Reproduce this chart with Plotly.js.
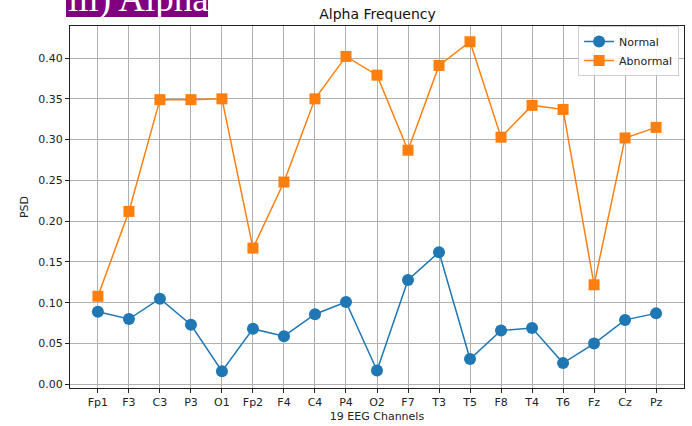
<!DOCTYPE html>
<html>
<head>
<meta charset="utf-8">
<script src="https://cdn.plot.ly/plotly-3.0.1.min.js"></script>
<style>html,body{margin:0;padding:0;background:#fff;}</style>
</head>
<body>
<div id="chart" style="width:692px;height:426px;"></div>
<script>
const channels = ["Fp1","F3","C3","P3","O1","Fp2","F4","C4","P4","O2","F7","T3","T5","F8","T4","T6","Fz","Cz","Pz"];
const normal = [0.089,0.080,0.105,0.073,0.016,0.068,0.059,0.086,0.101,0.017,0.128,0.162,0.031,0.066,0.069,0.026,0.050,0.079,0.087];
const abnormal = [0.108,0.212,0.349,0.349,0.350,0.167,0.248,0.350,0.402,0.379,0.287,0.391,0.420,0.303,0.342,0.337,0.122,0.302,0.315];
const yTicks = [0,0.05,0.10,0.15,0.20,0.25,0.30,0.35,0.40];
const yTickText = ["0.00","0.05","0.10","0.15","0.20","0.25","0.30","0.35","0.40"];
const xIdx = channels.map((c,i)=>i);

const traces = [
  {x:xIdx, y:normal, name:"Normal", mode:"lines+markers", type:"scatter",
   line:{color:"#1f77b4", width:1.5}, marker:{symbol:"circle", size:12, color:"#1f77b4"}},
  {x:xIdx, y:abnormal, name:"Abnormal", mode:"lines+markers", type:"scatter",
   line:{color:"#ff7f0e", width:1.5}, marker:{symbol:"square", size:11, color:"#ff7f0e"}}
];
const font = {family:"DejaVu Sans", size:11, color:"#222"};
const layout = {
  width:692, height:426,
  margin:{l:70, r:8, t:26, b:38},
  paper_bgcolor:"#fff", plot_bgcolor:"#fff",
  font:font,
  title:{text:"Alpha Frequency", font:{family:"DejaVu Sans", size:14, color:"#111"}, x:0.5455, xanchor:"center", y:0.966, yanchor:"middle"},
  xaxis:{range:[-0.9,18.9], tickvals:xIdx, ticktext:channels, showgrid:true, gridcolor:"#b0b0b0", gridwidth:1,
    zeroline:false, showline:true, linecolor:"#222", linewidth:1, mirror:true,
    ticks:"outside", ticklen:4, tickcolor:"#222",
    title:{text:"19 EEG Channels", font:{family:"DejaVu Sans", size:11, color:"#222"}, standoff:4}},
  yaxis:{range:[-0.0045,0.4393], tickvals:yTicks, ticktext:yTickText, showgrid:true, gridcolor:"#b0b0b0", gridwidth:1,
    zeroline:false, showline:true, linecolor:"#222", linewidth:1, mirror:true,
    ticks:"outside", ticklen:4, tickcolor:"#222",
    title:{text:"PSD", font:{family:"DejaVu Sans", size:11, color:"#222"}, standoff:7}},
  legend:{x:0.992, y:1.0, xanchor:"right", yanchor:"top", bgcolor:"rgba(255,255,255,0.85)",
    bordercolor:"#d0d0d0", borderwidth:1, font:{family:"DejaVu Sans", size:11, color:"#222"}},
  shapes:[{type:"rect", xref:"paper", yref:"paper", x0:-0.0065, x1:0.2248, y0:1.0249, y1:1.08,
    fillcolor:"#800080", line:{width:0}, layer:"above"}],
  annotations:[{xref:"paper", yref:"paper", x:-0.0065, y:1.0113, xanchor:"left", yanchor:"bottom",
    text:"iii) Alpha", showarrow:false, font:{family:"Liberation Serif", size:37, color:"#fff"}}]
};
Plotly.newPlot("chart", traces, layout, {displayModeBar:false});
</script>
</body>
</html>
